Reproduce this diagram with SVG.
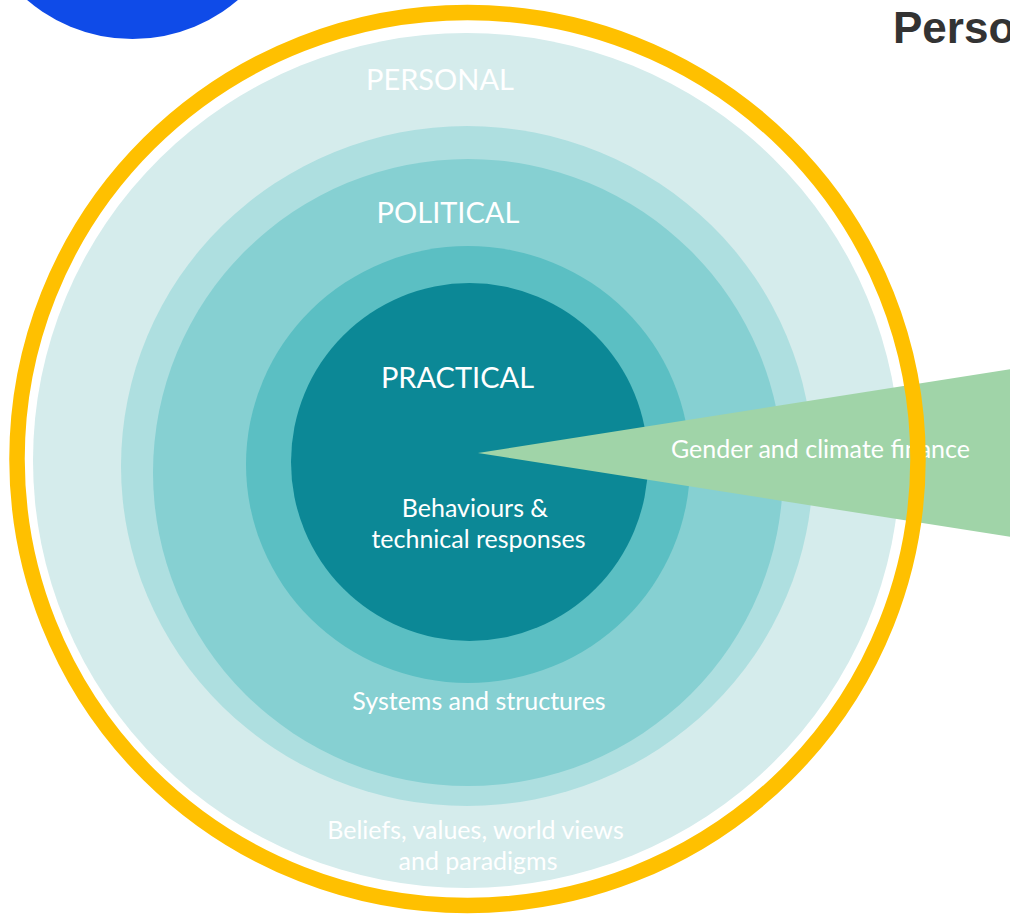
<svg xmlns="http://www.w3.org/2000/svg" width="1010" height="916" viewBox="0 0 1010 916">
  <style>
    .lbl { font-family: Lato, "Open Sans", "Liberation Sans", sans-serif; fill: #ffffff; }
    .big { font-size: 29px; }
    .mid { font-size: 25px; }
    .title { font-family: "Liberation Sans", Arial, sans-serif; font-weight: bold; font-size: 44px; fill: #333333; }
  </style>
  <rect x="0" y="0" width="1010" height="916" fill="#ffffff"/>
  <g id="blue-circle">
    <circle cx="132.5" cy="-123" r="162" fill="#0F4BE8"/>
  </g>
  <g id="title">
    <text class="title" x="893" y="43">Perso</text>
  </g>
  <g id="personal">
    <ellipse cx="466.5" cy="460.5" rx="433.5" ry="427.5" fill="#D5ECEC"/>
  </g>
  <g id="political-outer">
    <ellipse cx="467" cy="466" rx="346" ry="340" fill="#AEDFE0"/>
  </g>
  <g id="political">
    <ellipse cx="468" cy="472.5" rx="315" ry="313.5" fill="#86D0D2"/>
  </g>
  <g id="practical-outer">
    <ellipse cx="468" cy="464.5" rx="222" ry="218.5" fill="#5BBFC3"/>
  </g>
  <g id="practical">
    <ellipse cx="469.5" cy="462" rx="178.5" ry="179" fill="#0C8896"/>
  </g>
  <g id="labels">
    <text class="lbl big" x="440" y="90" text-anchor="middle">PERSONAL</text>
    <text class="lbl big" x="448" y="223" text-anchor="middle">POLITICAL</text>
    <text class="lbl big" x="457.5" y="388" text-anchor="middle">PRACTICAL</text>
    <text class="lbl mid" x="475" y="517" text-anchor="middle">Behaviours &amp;</text>
    <text class="lbl mid" x="478.5" y="548" text-anchor="middle">technical responses</text>
    <text class="lbl mid" x="479" y="710" text-anchor="middle">Systems and structures</text>
    <text class="lbl mid" x="475.5" y="839" text-anchor="middle">Beliefs, values, world views</text>
    <text class="lbl mid" x="478" y="870" text-anchor="middle">and paradigms</text>
  </g>
  <g id="gender-finance">
    <polygon points="478,453 1030,366 1030,540" fill="#A0D4A8"/>
    <text class="lbl mid" x="671" y="458">Gender and climate finance</text>
  </g>
  <g id="ring">
    <ellipse cx="467.5" cy="459" rx="450.5" ry="446.5" fill="none" stroke="#FFC000" stroke-width="15.5"/>
  </g>
</svg>
